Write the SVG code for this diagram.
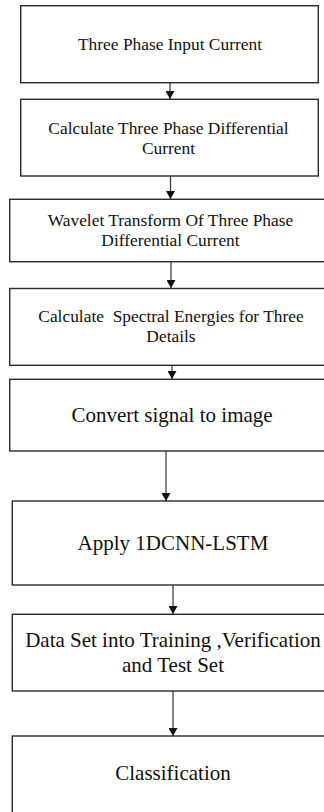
<svg xmlns="http://www.w3.org/2000/svg" width="324" height="812" viewBox="0 0 324 812">
<defs>
<marker id="ah" viewBox="0 0 8 9" refX="8" refY="4.5" markerWidth="8" markerHeight="9" markerUnits="userSpaceOnUse" orient="auto">
<path d="M0,0 L8,4.5 L0,9 Z" fill="#111"/>
</marker>
</defs>
<style>
.box{fill:#fff;stroke:#2a2a2a;stroke-width:1.4}
.t{font-family:"Liberation Serif","Times New Roman",serif;fill:#111;text-anchor:middle}
.s{font-size:17.4px}
.b{font-size:21px}
.c{stroke:#333;stroke-width:1.2;fill:none;marker-end:url(#ah)}
</style>
<rect width="324" height="812" fill="#fff"/>
<g id="connectors">
<line class="c" x1="170" y1="83" x2="170" y2="99"/>
<line class="c" x1="170.5" y1="176" x2="170.5" y2="199"/>
<line class="c" x1="171" y1="262" x2="171" y2="288"/>
<line class="c" x1="172" y1="365" x2="172" y2="379"/>
<line class="c" x1="166" y1="451" x2="166" y2="501"/>
<line class="c" x1="173" y1="585" x2="173" y2="614"/>
<line class="c" x1="173" y1="691" x2="173" y2="736"/>
</g>
<g id="n1">
<rect class="box" x="20.7" y="5.7" width="297.6" height="77"/>
<text class="t s" x="170" y="49.5">Three Phase Input Current</text>
</g>
<g id="n2">
<rect class="box" x="20.7" y="99.3" width="297.6" height="76.7"/>
<text class="t s" x="168.5" y="134">Calculate Three Phase Differential</text>
<text class="t s" x="168.5" y="154">Current</text>
</g>
<g id="n3">
<rect class="box" x="9.7" y="199.3" width="320" height="62.4"/>
<text class="t s" x="170.5" y="225.7">Wavelet Transform Of Three Phase</text>
<text class="t s" x="170.5" y="245.7">Differential Current</text>
</g>
<g id="n4">
<rect class="box" x="9.7" y="288.5" width="320" height="76.8"/>
<text class="t s" x="171" y="321.7" xml:space="preserve">Calculate  Spectral Energies for Three</text>
<text class="t s" x="171" y="341.7">Details</text>
</g>
<g id="n5">
<rect class="box" x="9.7" y="379.3" width="320" height="71.7"/>
<text class="t b" x="172" y="422.3">Convert signal to image</text>
</g>
<g id="n6">
<rect class="box" x="12.3" y="501" width="320" height="84"/>
<text class="t b" x="173" y="550">Apply 1DCNN-LSTM</text>
</g>
<g id="n7">
<rect class="box" x="12.3" y="614.3" width="320" height="76.7"/>
<text class="t b" x="173" y="646.7">Data Set into Training ,Verification</text>
<text class="t b" x="173" y="671.7">and Test Set</text>
</g>
<g id="n8">
<rect class="box" x="12.3" y="736" width="320" height="90"/>
<text class="t b" x="173" y="780">Classification</text>
</g>
</svg>
